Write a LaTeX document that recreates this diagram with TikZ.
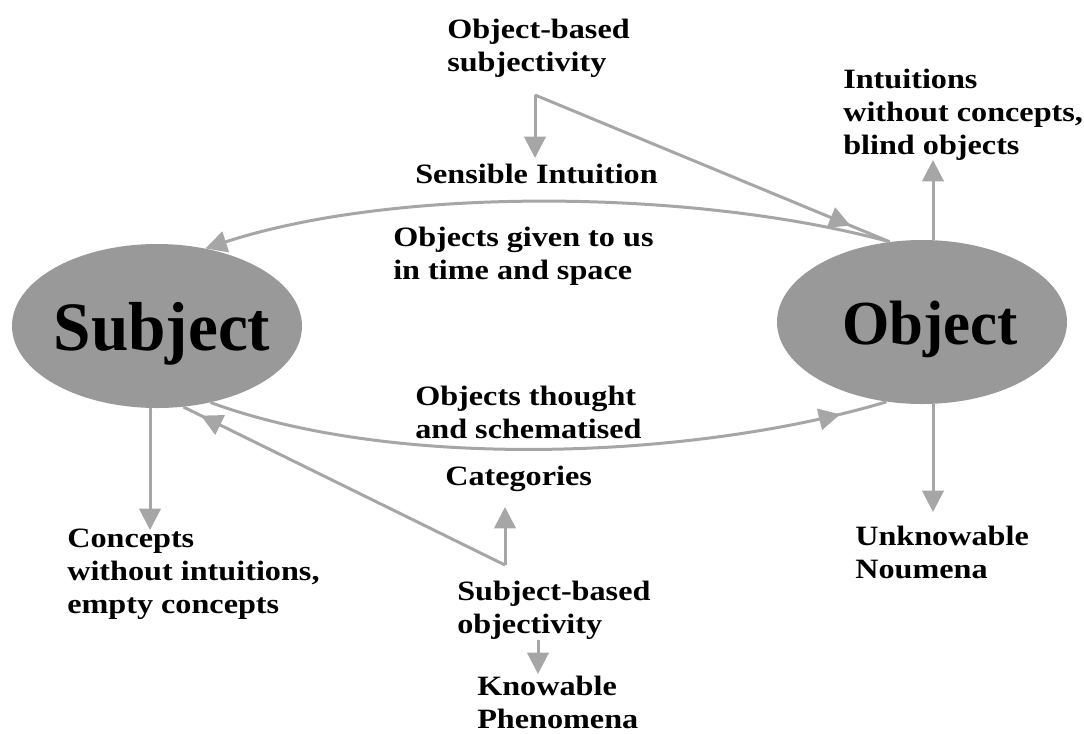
\documentclass[tikz,border=0pt]{standalone}
\usepackage{fontspec}
\setmainfont{Liberation Serif}[FakeStretch=1.15]
\newfontfamily\bigfnt{Liberation Serif}[FakeStretch=0.97]
\usetikzlibrary{arrows.meta,shapes.geometric,decorations.markings}
\definecolor{ellfill}{RGB}{153,153,153}
\definecolor{linec}{RGB}{166,166,166}
\tikzset{
  lbl/.style={anchor=north west, inner sep=0pt, align=left, font=\fontsize{21}{24.75}\selectfont\bfseries},
  oval/.style={ellipse, fill=ellfill, draw=none, minimum width=217.5pt, minimum height=123pt, inner sep=0pt},
  bigtxt/.style={anchor=base, inner sep=0pt, font=\bigfnt\fontsize{#1}{#1}\selectfont\bfseries},
  conn/.style={color=linec, line width=2.25pt},
  arr/.style={conn, -{Triangle[length=16pt,width=16pt]}},
  midarr/.style={conn, postaction={decorate}, decoration={markings, mark=at position #1 with {\arrow{Triangle[length=16pt,width=16pt]}}}},
}
\begin{document}
\begin{tikzpicture}[x=0.75pt,y=-0.75pt]
\useasboundingbox (0,0) rectangle (1084,733);
% ellipses
\node[oval] (subj) at (157,326) {};
\node[oval] (obj) at (922,322) {};
\node[bigtxt=52] (subjt) at (162,350) {Subject};
\node[bigtxt=47] (objt) at (930,344) {Object};
% labels
\node[lbl] (obs) at (447,19) {Object-based\\subjectivity};
\node[lbl] (sens) at (415,164) {Sensible Intuition};
\node[lbl] (intu) at (843,69) {Intuitions\\without concepts,\\blind objects};
\node[lbl] (given) at (393,227) {Objects given to us\\in time and space};
\node[lbl] (thought) at (415,386) {Objects thought\\and schematised};
\node[lbl] (cat) at (445,466) {Categories};
\node[lbl] (conc) at (67,529) {Concepts\\without intuitions,\\empty concepts};
\node[lbl] (unk) at (855,526) {Unknowable\\Noumena};
\node[lbl] (sbo) at (457,581) {Subject-based\\objectivity};
\node[lbl] (know) at (477,676) {Knowable\\Phenomena};
% coordinates
\coordinate (c1) at (535,95);
\coordinate (c1t) at (535,158);
\coordinate (c2) at (505,565);
\coordinate (c2t) at (505,507);
\coordinate (sd) at (150,530);
\coordinate (ou) at (933,160);
\coordinate (od) at (933,512);
\coordinate (kt) at (538,640);
\coordinate (kb) at (538,674);
% connectors
\draw[arr] (c1) -- (c1t);
\draw[midarr=0.89] (c1) -- (obj.112);
\draw[arr] (obj.112) .. controls (700,190) and (400,185) .. (subj.58);
\draw[midarr=0.93] (subj.-55) .. controls (400,472) and (700,458) .. (obj.-114);
\draw[arr] (c2) -- (c2t);
\draw[midarr=0.945] (c2) -- (subj.-72);
\draw[arr] (subj.south -| sd) -- (sd);
\draw[arr] (obj.north -| ou) -- (ou);
\draw[arr] (obj.south -| od) -- (od);
\draw[arr] (kt) -- (kb);
\end{tikzpicture}
\end{document}
